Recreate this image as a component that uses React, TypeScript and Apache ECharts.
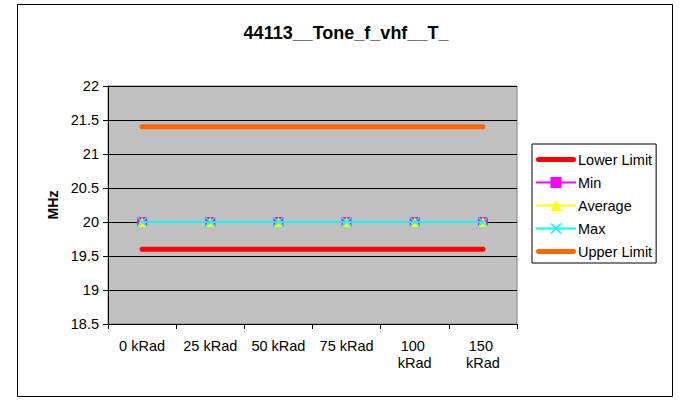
import React, { useEffect, useRef } from "react";
import * as echarts from "echarts";

const categories = ["0 kRad", "25 kRad", "50 kRad", "75 kRad", "100 kRad", "150 kRad"];
const lowerLimit = [19.6, 19.6, 19.6, 19.6, 19.6, 19.6];
const minValues = [20, 20, 20, 20, 20, 20];
const avgValues = [20, 20, 20, 20, 20, 20];
const maxValues = [20, 20, 20, 20, 20, 20];
const upperLimit = [21.4, 21.4, 21.4, 21.4, 21.4, 21.4];
const chartTitle = "44113__Tone_f_vhf__T_";
const yAxisName = "MHz";

const FONT = "Liberation Sans, Arial, sans-serif";
const X_SYMBOL = "path://M0,1 L1,0 L5,4 L9,0 L10,1 L6,5 L10,9 L9,10 L5,6 L1,10 L0,9 L4,5 Z";
const THICK_LINE_ICON = "path://M2.5,0 L37.5,0 A2.5,2.5 0 0 1 37.5,5 L2.5,5 A2.5,2.5 0 0 1 2.5,0 Z";

export default function App() {
  const ref = useRef<HTMLDivElement>(null);
  useEffect(() => {
    if (!ref.current) return;
    const chart = echarts.init(ref.current, null, { renderer: "svg" });
    chart.setOption({
      animation: false,
      backgroundColor: "#ffffff",
      title: {
        text: chartTitle,
        left: 346,
        top: 24,
        padding: 0,
        textAlign: "center",
        textStyle: { fontFamily: FONT, fontSize: 18, fontWeight: "bold", color: "#000" },
      },
      graphic: [
        {
          type: "rect",
          shape: { x: 17.5, y: 4.5, width: 655, height: 392 },
          style: { fill: "none", stroke: "#000", lineWidth: 1 },
          silent: true,
        },
      ],
      legend: {
        orient: "vertical",
        left: 532,
        top: 144,
        padding: [8, 4, 4, 3],
        itemWidth: 40,
        itemHeight: 14,
        itemGap: 8,
        symbolKeepAspect: true,
        borderColor: "#000",
        borderWidth: 1,
        backgroundColor: "#fff",
        textStyle: { fontFamily: FONT, fontSize: 14.5, color: "#000", padding: [0, 0, 0, -3] },
        data: [
          { name: "Lower Limit", icon: THICK_LINE_ICON, itemStyle: { color: "#FF0000" } },
          { name: "Min" },
          { name: "Average" },
          { name: "Max" },
          { name: "Upper Limit", icon: THICK_LINE_ICON, itemStyle: { color: "#FF6600" } },
        ],
      },
      grid: {
        left: 108,
        right: 166,
        top: 86,
        bottom: 76,
        show: true,
        backgroundColor: "#C0C0C0",
        borderColor: "#808080",
        borderWidth: 1,
      },
      xAxis: {
        type: "category",
        data: categories,
        boundaryGap: true,
        axisLine: { lineStyle: { color: "#000", width: 1 } },
        axisTick: { show: true, length: 5, inside: false, lineStyle: { color: "#000" } },
        axisLabel: {
          fontFamily: FONT,
          fontSize: 14.5,
          color: "#000",
          margin: 13,
          width: 60,
          overflow: "break",
          lineHeight: 17,
          interval: 0,
        },
        splitLine: { show: false },
      },
      yAxis: {
        type: "value",
        min: 18.5,
        max: 22,
        interval: 0.5,
        name: yAxisName,
        nameLocation: "middle",
        nameGap: 46,
        nameRotate: 90,
        nameTextStyle: { fontFamily: FONT, fontSize: 14, fontWeight: "bold", color: "#000" },
        axisLine: { show: true, lineStyle: { color: "#000", width: 1 } },
        axisTick: { show: true, length: 5, inside: false, lineStyle: { color: "#000" } },
        axisLabel: { fontFamily: FONT, fontSize: 14.5, color: "#000", margin: 9 },
        splitLine: { show: true, lineStyle: { color: "#000", width: 1 } },
      },
      series: [
        {
          name: "Lower Limit",
          type: "line",
          data: lowerLimit,
          symbol: "none",
          lineStyle: { color: "#FF0000", width: 5, cap: "round" },
          itemStyle: { color: "#FF0000" },
          z: 2,
        },
        {
          name: "Min",
          type: "line",
          data: minValues,
          symbol: "rect",
          symbolSize: 10,
          lineStyle: { color: "#FF00FF", width: 1 },
          itemStyle: { color: "#FF00FF" },
          z: 3,
        },
        {
          name: "Average",
          type: "line",
          data: avgValues,
          symbol: "triangle",
          symbolSize: 10,
          lineStyle: { color: "#FFFF00", width: 1 },
          itemStyle: { color: "#FFFF00" },
          z: 4,
        },
        {
          name: "Max",
          type: "line",
          data: maxValues,
          symbol: X_SYMBOL,
          symbolSize: 10,
          lineStyle: { color: "#00FFFF", width: 2 },
          itemStyle: { color: "#00FFFF" },
          z: 5,
        },
        {
          name: "Upper Limit",
          type: "line",
          data: upperLimit,
          symbol: "none",
          lineStyle: { color: "#FF6600", width: 5, cap: "round" },
          itemStyle: { color: "#FF6600" },
          z: 2,
        },
      ],
    });
    return () => chart.dispose();
  }, []);
  return (
    <div
      ref={ref}
      style={{ position: "absolute", left: 0, top: 0, width: 683, height: 400 }}
    />
  );
}
